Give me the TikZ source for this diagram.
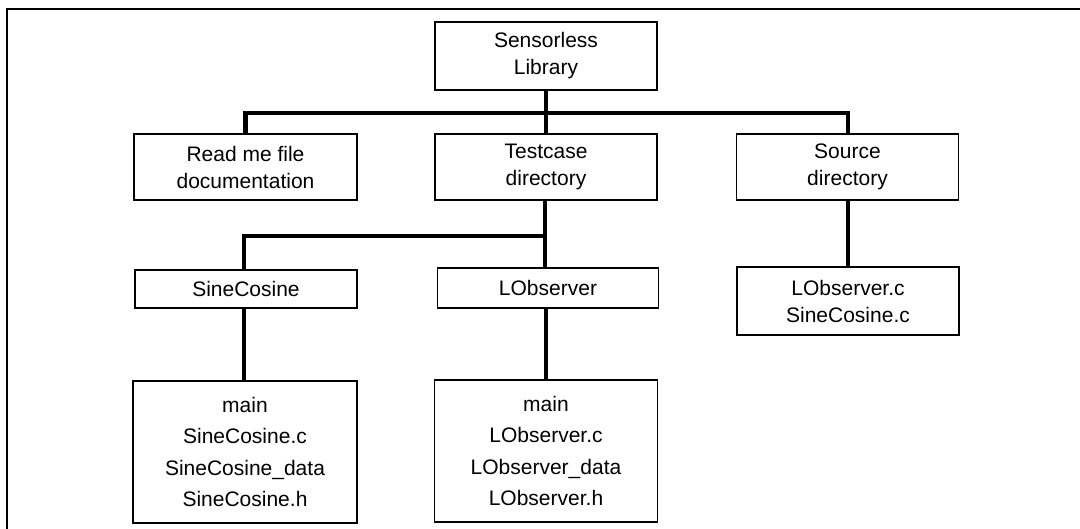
\documentclass[tikz,border=0pt]{standalone}
\usepackage{fontspec}
\setmainfont{Liberation Sans}
\begin{document}
\begin{tikzpicture}[x=1pt,y=-1pt,
  box/.style={draw, line width=1.6pt, inner sep=0pt, align=center,
    font=\fontsize{21}{27}\selectfont},
  tallbox/.style={box, font=\fontsize{21}{31.5}\selectfont},
  link/.style={line width=4.8pt, line join=miter},
  frame/.style={line width=2.2pt}]
\useasboundingbox (0,0) rectangle (1080,528);
\draw[frame] (1085,9) -- (7,9) -- (7,535);

\node[box, minimum width=222pt, minimum height=68pt] (top) at (546,56) {Sensorless\\Library};
\node[box, minimum width=223pt, minimum height=66pt] (readme) at (245.5,167) {Read me file\\documentation};
\node[box, minimum width=222pt, minimum height=66pt] (tc) at (546,167) {Testcase\\directory};
\node[box, minimum width=222pt, minimum height=66pt] (src) at (847.5,167) {Source\\directory};
\node[box, minimum width=222pt, minimum height=38pt] (sine) at (246,289) {SineCosine};
\node[box, minimum width=221pt, minimum height=40pt] (lobs) at (548,288) {LObserver};
\node[box, minimum width=222pt, minimum height=68pt] (srcf) at (848,301) {LObserver.c\\SineCosine.c};
\node[tallbox, minimum width=224pt, minimum height=142pt] (sinef) at (245,452) {main\\SineCosine.c\\SineCosine\_data\\SineCosine.h};
\node[tallbox, minimum width=223pt, minimum height=142pt] (lobsf) at (546,451) {main\\LObserver.c\\LObserver\_data\\LObserver.h};

\coordinate (busL) at (245.5,113);
\coordinate (busR) at (848,113);
\coordinate (tcL) at (244,236);
\coordinate (tcM) at (545,236);

\draw[link] (top.south) -- (tc.north);
\draw[link] (readme.north -| busL) -- (busL) -- (busR) -- (src.north -| busR);
\draw[link] (tc.south -| tcM) -- (lobs.north -| tcM);
\draw[link] (tcM) -- (tcL) -- (sine.north -| tcL);
\draw[link] (src.south -| busR) -- (srcf.north -| busR);
\draw[link] (sine.south -| tcL) -- (sinef.north -| tcL);
\draw[link] (lobs.south -| lobsf.north) -- (lobsf.north);
\end{tikzpicture}
\end{document}
